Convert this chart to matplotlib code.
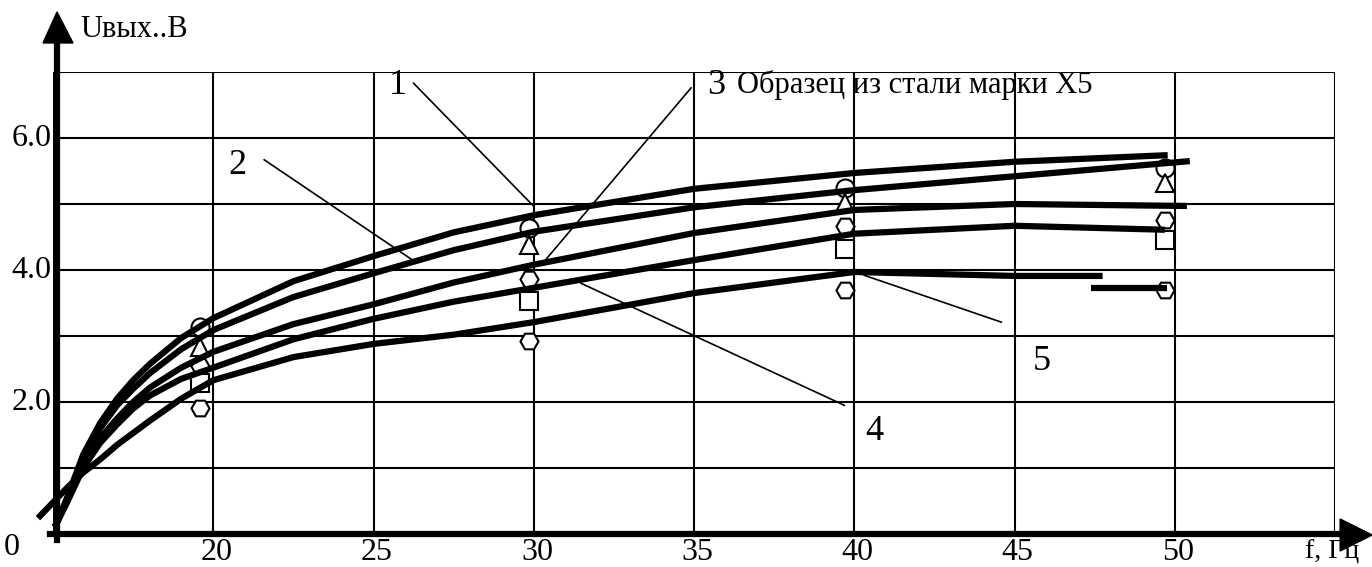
import matplotlib
matplotlib.use("Agg")
import matplotlib.pyplot as plt
from matplotlib.patches import Polygon

plt.rcParams['font.family'] = ['Liberation Serif', 'DejaVu Serif']

# curves, f in Hz (left edge of grid is marked "0"), U in volts
f_pts = [15.06, 15.44, 15.94, 16.47, 17.0, 17.5, 18.03, 19.0, 20,
         22.5, 25, 27.5, 30, 35, 40, 45]
c1_x = f_pts + [49.78]
c1_y = [0.11, 0.55, 1.2, 1.68, 2.05, 2.33, 2.58, 2.97, 3.27,
        3.83, 4.21, 4.57, 4.83, 5.23, 5.47, 5.64, 5.74]
c2_x = f_pts + [50.47]
c2_y = [0.11, 0.52, 1.15, 1.6, 1.95, 2.2, 2.44, 2.8, 3.09,
        3.59, 3.95, 4.3, 4.58, 4.95, 5.21, 5.42, 5.65]
c3_x = f_pts + [50.38]
c3_y = [0.11, 0.5, 1.05, 1.45, 1.75, 2.0, 2.22, 2.52, 2.76,
        3.18, 3.48, 3.81, 4.08, 4.56, 4.91, 5.0, 4.97]
c4_x = f_pts + [49.69]
c4_y = [0.11, 0.48, 1.0, 1.38, 1.66, 1.9, 2.1, 2.35, 2.52,
        2.95, 3.26, 3.52, 3.73, 4.15, 4.55, 4.67, 4.61]
c5_x = [14.53] + f_pts[1:] + [47.75]
c5_y = [0.24, 0.7, 0.93, 1.13, 1.35, 1.53, 1.72, 2.05, 2.33,
        2.68, 2.88, 3.02, 3.21, 3.65, 3.97, 3.91, 3.91]
c5b_x = [47.4, 49.75]
c5b_y = [3.73, 3.73]

# measured points
mk_x = [19.6, 29.85, 39.7, 49.7]
circ_y = [3.14, 4.64, 5.24, 5.55]
tri_y = [2.83, 4.38, 5.02, 5.32]
hex1_y = [2.55, 3.86, 4.67, 4.76]
sq_y = [2.29, 3.53, 4.32, 4.45]
hex2_y = [1.91, 2.92, 3.70, 3.70]

x_ticks = [20, 25, 30, 35, 40, 45, 50]
y_ticks = [2, 4, 6]
y_labels = ["2.0", "4.0", "6.0"]

fig = plt.figure(figsize=(13.72, 5.67), dpi=100)
ax = fig.add_axes([53 / 1372, 33 / 567, 1282 / 1372, 462 / 567])
ax.set_xlim(15, 55)
ax.set_ylim(0, 7)

# grid
for gx in range(15, 56, 5):
    ax.axvline(gx, color="black", lw=1.5, zorder=1)
for gy in range(1, 8):
    ax.axhline(gy, color="black", lw=1.5, zorder=1)
for s in ax.spines.values():
    s.set_visible(False)
ax.set_xticks([])
ax.set_yticks([])

# curves
for cx, cy in [(c1_x, c1_y), (c2_x, c2_y), (c3_x, c3_y), (c4_x, c4_y),
               (c5_x, c5_y), (c5b_x, c5b_y)]:
    ax.plot(cx, cy, color="black", lw=4.5, solid_capstyle="butt",
            solid_joinstyle="round", clip_on=False, zorder=4)

mk = dict(color="black", ls="none", ms=13, mew=1.5, mfc="white", zorder=3)
ax.plot(mk_x, circ_y, marker="o", **mk)
ax.plot(mk_x, tri_y, marker="^", **mk)
ax.plot(mk_x, hex1_y, marker="H", **mk)
ax.plot(mk_x, sq_y, marker="s", **mk)
ax.plot(mk_x, hex2_y, marker="H", **mk)

# axes with arrows
ax.plot([15.125, 15.125], [-0.09, 7.44], color="black", lw=4.5,
        clip_on=False, zorder=5)
ax.plot([14.9, 55.2], [0, 0], color="black", lw=4.5, clip_on=False, zorder=5)
ax.add_patch(Polygon([(14.69, 7.44), (15.625, 7.44), (15.125, 7.91)],
                     closed=True, color="black", clip_on=False, zorder=5))
ax.add_patch(Polygon([(55.16, 0.227), (55.16, -0.258), (56.16, -0.015)],
                     closed=True, color="black", clip_on=False, zorder=5))

# tick labels
for tx in x_ticks:
    ax.text(tx + 0.1, -0.28, str(tx), ha="center", va="center", fontsize=23)
for ty, tl in zip(y_ticks, y_labels):
    ax.text(14.95, ty, tl, ha="right", va="center", fontsize=23)
ax.text(13.72, -0.21, "0", ha="center", va="center", fontsize=23)
ax.text(54.05, -0.27, "f, Гц", ha="left", va="center", fontsize=20,
        clip_on=False)
ax.text(15.84, 7.64, "Uвых..В", ha="left", va="center", fontsize=22)

# curve numbers and leader lines
ax.text(36.35, 6.80, "Образец из стали марки Х5", ha="left", va="center",
        fontsize=22)
labels = [("1", 25.75, 6.80), ("2", 20.75, 5.59), ("3", 35.7, 6.80),
          ("4", 40.63, 1.55), ("5", 45.84, 2.61)]
for t, lx, ly in labels:
    ax.text(lx, ly, t, ha="center", va="center", fontsize=26)
leaders = [((26.25, 29.97), (6.83, 4.98)), ((21.59, 26.22), (5.67, 4.15)),
           ((34.91, 30.31), (6.76, 4.12)), ((31.47, 39.69), (3.80, 1.95)),
           ((40.31, 44.59), (3.92, 3.21))]
for lx, ly in leaders:
    ax.plot(lx, ly, color="black", lw=1.2, zorder=2)

fig.savefig("out.png", dpi=100)
